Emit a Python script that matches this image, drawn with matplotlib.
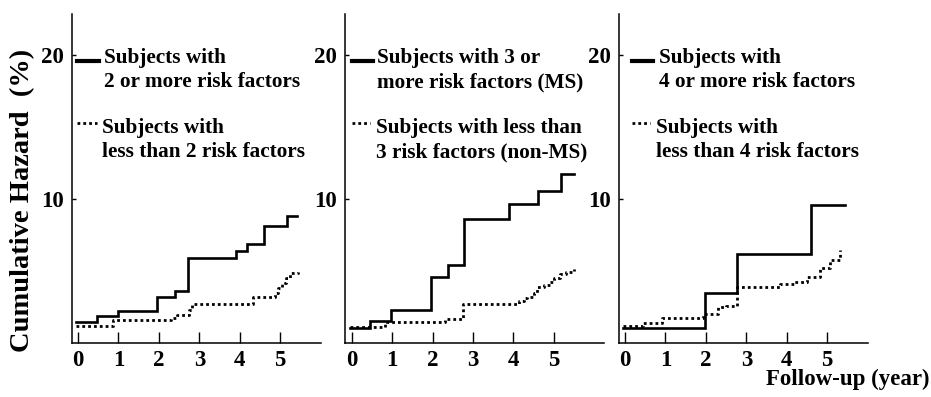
import matplotlib
matplotlib.use("Agg")
import matplotlib.pyplot as plt

# ---------------- data ----------------
p1_solid_t = [-0.05, 0.46, 1.00, 1.95, 2.40, 2.73, 3.90, 4.19, 4.59, 5.16, 5.41]
p1_solid_v = [1.48, 1.88, 2.24, 3.22, 3.63, 5.92, 6.39, 6.88, 8.15, 8.82, 8.82]
p1_dot_t = [-0.05, 0.87, 2.30, 2.45, 2.75, 2.82, 4.34, 4.88, 4.95, 5.05, 5.15, 5.25, 5.45]
p1_dot_v = [1.18, 1.60, 1.75, 1.94, 2.30, 2.69, 3.17, 3.50, 3.80, 4.20, 4.49, 4.84, 4.95]

p2_solid_t = [-0.05, 0.46, 0.98, 1.95, 2.39, 2.78, 3.90, 4.60, 5.18, 5.49]
p2_solid_v = [1.02, 1.55, 2.29, 4.60, 5.44, 8.61, 9.65, 10.58, 11.74, 11.74]
p2_dot_t = [-0.05, 0.82, 2.31, 2.76, 4.13, 4.25, 4.33, 4.50, 4.58, 4.75, 4.91, 5.00, 5.16, 5.30, 5.49]
p2_dot_v = [1.13, 1.44, 1.65, 2.69, 2.90, 3.10, 3.22, 3.50, 3.87, 4.00, 4.26, 4.50, 4.79, 4.95, 5.12]

p3_solid_t = [-0.05, 1.98, 2.76, 4.60, 5.45]
p3_solid_v = [1.02, 3.49, 6.18, 9.58, 9.58]
p3_dot_t = [-0.05, 0.45, 0.91, 1.94, 2.31, 2.50, 2.76, 3.84, 4.17, 4.50, 4.83, 5.07, 5.32]
p3_dot_v = [1.18, 1.41, 1.72, 2.01, 2.48, 2.60, 3.91, 4.10, 4.26, 4.60, 5.19, 5.76, 6.46]

x_ticks = [0, 1, 2, 3, 4, 5]
y_ticks = [10, 20]

legend_texts = [
    ("Subjects with\n2 or more risk factors", "Subjects with\nless than 2 risk factors"),
    ("Subjects with 3 or\nmore risk factors (MS)", "Subjects with less than\n3 risk factors (non-MS)"),
    ("Subjects with\n4 or more risk factors", "Subjects with\nless than 4 risk factors"),
]
y_label = "Cumulative Hazard  (%)"
x_label = "Follow-up (year)"

# ---------------- layout ----------------
W, H = 931, 397
fig = plt.figure(figsize=(W / 100, H / 100), dpi=100)
FONT = "Liberation Serif"


def fx(x):
    return x / W


def fy(y):
    return 1 - y / H


panels = [
    dict(left=72, right=321, xlim=(-0.15, 6.01), solid=(p1_solid_t, p1_solid_v), dot=(p1_dot_t, p1_dot_v),
         lx=(77, 99), dlx=(77, 97), tx=104, dtx=102),
    dict(left=345, right=604, xlim=(-0.17, 6.24), solid=(p2_solid_t, p2_solid_v), dot=(p2_dot_t, p2_dot_v),
         lx=(352, 373), dlx=(352, 370), tx=377, dtx=376),
    dict(left=619, right=868, xlim=(-0.15, 6.01), solid=(p3_solid_t, p3_solid_v), dot=(p3_dot_t, p3_dot_v),
         lx=(632, 653), dlx=(632, 650), tx=659, dtx=656),
]
top, bottom = 14, 343
LEG_FS = 15.3

for i, p in enumerate(panels):
    ax = fig.add_axes([fx(p["left"]), fy(bottom), fx(p["right"] - p["left"]), (bottom - top) / H])
    ax.step(p["solid"][0], p["solid"][1], where="post", color="black", lw=1.9, solid_joinstyle="miter")
    ax.step(p["dot"][0], p["dot"][1], where="post", color="black", lw=2.0, linestyle=(0, (1, 1.1)))
    ax.set_xlim(*p["xlim"])
    ax.set_ylim(0, 22.85)
    ax.set_xticks(x_ticks)
    ax.set_xticklabels([str(t) for t in x_ticks], fontfamily=FONT, fontweight="bold", fontsize=16.5)
    ax.set_yticks(y_ticks)
    ax.set_yticklabels([str(t) for t in y_ticks], fontfamily=FONT, fontweight="bold", fontsize=16.5)
    ax.tick_params(axis="x", direction="in", length=8, width=1, pad=5)
    ax.tick_params(axis="y", direction="in", length=3, width=1, pad=6)
    for s in ("top", "right"):
        ax.spines[s].set_visible(False)
    for s in ("left", "bottom"):
        ax.spines[s].set_linewidth(1.1)
    ax.patch.set_alpha(0)

    # legend entries
    fig.lines.append(plt.Line2D([fx(p["lx"][0]), fx(p["lx"][1])], [fy(61), fy(61)],
                                transform=fig.transFigure, color="black", lw=3))
    fig.lines.append(plt.Line2D([fx(p["dlx"][0]), fx(p["dlx"][1])], [fy(123), fy(123)],
                                transform=fig.transFigure, color="black", lw=2, linestyle=(0, (1, 1.1))))
    t1, t2 = legend_texts[i]
    fig.text(fx(p["tx"]), fy(63), t1.split("\n")[0], fontfamily=FONT, fontweight="bold", fontsize=LEG_FS, va="baseline")
    fig.text(fx(p["tx"]), fy(87), t1.split("\n")[1], fontfamily=FONT, fontweight="bold", fontsize=LEG_FS, va="baseline")
    fig.text(fx(p["dtx"]), fy(133), t2.split("\n")[0], fontfamily=FONT, fontweight="bold", fontsize=LEG_FS, va="baseline")
    fig.text(fx(p["dtx"]), fy(157), t2.split("\n")[1], fontfamily=FONT, fontweight="bold", fontsize=LEG_FS, va="baseline")

fig.text(fx(23), fy(200), y_label, rotation=90, ha="center", va="center",
         fontfamily=FONT, fontweight="bold", fontsize=20.5)
fig.text(fx(930), fy(385), x_label, ha="right", va="baseline",
         fontfamily=FONT, fontweight="bold", fontsize=16.5)

fig.savefig("out.png", dpi=100)
